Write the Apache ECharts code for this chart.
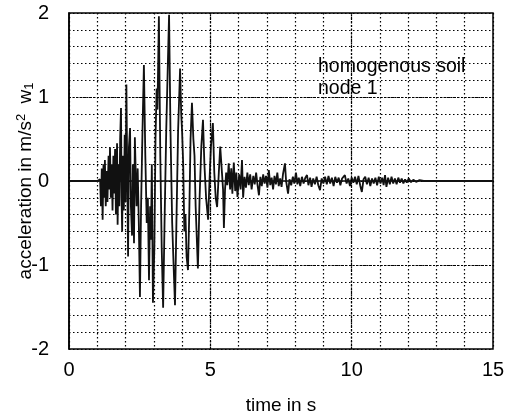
<!DOCTYPE html>
<html>
<head>
<meta charset="utf-8">
<script src="https://cdn.jsdelivr.net/npm/echarts@6/dist/echarts.min.js"></script>
<style>html,body{margin:0;padding:0;background:#fff}#c{width:509px;height:414px}</style>
</head>
<body>
<div id="c"></div>
<script>
// time in s
var times = [0,1.00,1.10,1.13,1.16,1.19,1.22,1.25,1.27,1.30,1.33,1.36,1.40,1.43,1.45,1.48,1.51,1.54,1.57,1.60,1.63,1.66,1.70,1.72,1.75,1.78,1.81,1.84,1.86,1.88,1.91,1.94,1.97,2.00,2.03,2.06,2.09,2.12,2.16,2.19,2.23,2.26,2.30,2.33,2.36,2.39,2.43,2.47,2.51,2.55,2.60,2.65,2.70,2.75,2.79,2.83,2.87,2.90,2.93,2.97,3.02,3.06,3.10,3.13,3.18,3.23,3.28,3.33,3.38,3.44,3.49,3.54,3.59,3.65,3.70,3.75,3.80,3.86,3.93,3.97,4.00,4.04,4.08,4.12,4.16,4.21,4.26,4.30,4.35,4.40,4.44,4.48,4.56,4.62,4.68,4.74,4.79,4.85,4.92,4.97,5.02,5.09,5.14,5.19,5.24,5.30,5.35,5.41,5.45,5.48,5.52,5.56,5.60,5.65,5.70,5.74,5.78,5.83,5.88,5.92,5.96,6.02,6.07,6.12,6.16,6.21,6.26,6.31,6.36,6.41,6.46,6.52,6.57,6.62,6.67,6.72,6.77,6.82,6.87,6.92,6.97,7.02,7.07,7.12,7.17,7.22,7.27,7.32,7.37,7.42,7.47,7.52,7.57,7.64,7.68,7.75,7.80,7.86,7.92,7.97,8.03,8.08,8.13,8.18,8.24,8.30,8.36,8.42,8.47,8.53,8.58,8.64,8.70,8.76,8.82,8.88,8.94,9.00,9.06,9.12,9.18,9.24,9.30,9.36,9.42,9.48,9.54,9.60,9.66,9.76,9.82,9.88,9.94,10.00,10.06,10.12,10.18,10.24,10.30,10.36,10.42,10.48,10.54,10.60,10.66,10.72,10.78,10.84,10.90,10.96,11.02,11.08,11.13,11.18,11.23,11.29,11.35,11.41,11.47,11.53,11.59,11.65,11.71,11.77,11.83,11.89,11.95,12.02,12.10,12.18,12.28,12.40,12.55,15];
// acceleration in m/s^2
var accel = [0,0,0.02,-0.3,0.15,-0.46,0.2,-0.2,0.25,-0.3,0.12,-0.25,0.3,-0.1,0.4,-0.2,0.2,-0.35,0.3,-0.15,0.38,-0.4,0.45,-0.52,0.2,-0.3,0.5,0.87,-0.2,-0.6,0.3,-0.35,0.55,-0.25,1.15,0.1,-0.9,0.4,0.63,-0.3,-0.65,0.2,-0.74,0.52,0.1,-0.3,0.15,-0.5,-1.38,-0.3,0.6,1.38,0.3,-0.5,-0.2,-1.18,-0.3,-0.7,0.2,-1.45,-0.8,0.5,1.1,0.85,1.96,0.3,-0.8,-1.51,-0.5,0.6,1.3,1.98,0.6,-0.5,-1.0,-1.48,-0.5,0.6,1.34,0.8,0.6,0.2,-0.6,-0.4,-0.9,-1.06,-0.3,0.5,0.93,0.5,0.3,-0.3,-1.04,-0.2,0.4,0.73,0.2,-0.2,-0.46,0,0.4,0.69,0.1,-0.2,-0.31,0.1,0.41,0.43,-0.1,-0.56,-0.1,0.1,-0.05,0.21,-0.1,0.15,-0.15,0.22,-0.12,0.1,-0.19,0.08,-0.1,0.25,-0.2,0.05,-0.08,0.1,-0.05,0.08,-0.1,0.06,-0.04,0.1,-0.05,-0.17,0.05,-0.06,0.08,-0.03,0.06,-0.08,0.13,-0.05,0.04,-0.1,0.06,-0.04,0.1,-0.06,0.03,-0.07,0.08,0.21,0,-0.15,0.02,-0.05,0.05,-0.03,0.1,-0.04,0.04,-0.06,0.05,-0.03,0.04,0.07,-0.05,0.04,-0.07,0.03,-0.04,0.05,-0.05,-0.11,0.03,-0.03,0.05,-0.04,0.06,-0.03,0.04,-0.06,0.05,-0.02,0.04,-0.05,0.03,0.07,-0.03,0.03,-0.06,0.04,-0.02,0.05,-0.04,0.06,-0.05,-0.13,0.02,0.05,-0.04,0.04,-0.06,0.03,-0.03,0.04,-0.05,0.05,-0.03,0.04,-0.05,0.07,-0.07,0.04,-0.04,0.05,-0.03,0.03,-0.04,0.04,-0.02,0.03,-0.03,0.02,-0.02,0.03,-0.015,0.015,-0.01,0.01,0,0];
var xTickLabels = [0,5,10,15];
var yTickLabels = [-2,-1,0,1,2];

var data = times.map(function(t,i){return [t, accel[i]];});
var font = 'Liberation Sans';
var chart = echarts.init(document.getElementById('c'), null, {renderer:'canvas'});
chart.setOption({
  animation:false,
  backgroundColor:'#fff',
  grid:{left:69,right:16,top:13,bottom:65,outerBoundsMode:'none',containLabel:false,show:true,borderColor:'#000',borderWidth:1.5,backgroundColor:'transparent'},
  xAxis:{type:'value',min:0,max:15,interval:1,
    name:'time in s',nameLocation:'middle',nameGap:47,nameMoveOverlap:false,
    nameTextStyle:{fontFamily:font,fontSize:19,color:'#000'},
    axisLine:{show:true,lineStyle:{color:'#000',width:1.5}},
    axisTick:{show:false},
    axisLabel:{margin:11,fontFamily:font,fontSize:20,color:'#000',
      formatter:function(v){return xTickLabels.indexOf(Math.round(v))>=0 && Math.abs(v-Math.round(v))<1e-6 ? String(Math.round(v)) : '';}},
    splitLine:{show:true,lineStyle:{color:'#000',width:1.2,type:[1.5,2.5]}}
  },
  yAxis:{type:'value',min:-2,max:2,interval:0.2,
    name:'acceleration in m/s{sup|2} w{sub|1}',nameLocation:'middle',nameGap:33,nameRotate:90,nameMoveOverlap:false,
    nameTextStyle:{fontFamily:font,fontSize:19,color:'#000',
      rich:{sup:{fontFamily:font,fontSize:13,verticalAlign:'top',padding:[0,5,8,0],color:'#000'},
            sub:{fontFamily:font,fontSize:13,verticalAlign:'bottom',padding:[8,0,0,0],color:'#000'}}},
    axisLine:{show:true,lineStyle:{color:'#000',width:1.5}},
    axisTick:{show:false},
    axisLabel:{margin:20,fontFamily:font,fontSize:20,color:'#000',
      formatter:function(v){var r=Math.round(v);return (Math.abs(v-r)<1e-6 && yTickLabels.indexOf(r)>=0)?String(r):'';}},
    splitLine:{show:true,lineStyle:{color:'#000',width:1.2,type:[1.5,2.5]}}
  },
  series:[{type:'line',data:data,showSymbol:false,symbol:'none',
    lineStyle:{color:'#111',width:1.8},
    markLine:{silent:true,symbol:'none',label:{show:false},
      lineStyle:{color:'#000',width:1.2,type:[2,1.5]},
      data:[{yAxis:1},{yAxis:-1},{xAxis:5},{xAxis:10}]}
  }],
  graphic:[{type:'text',left:318,top:56,style:{text:'homogenous soil\nnode 1',fontFamily:font,fontSize:19.5,lineHeight:22,fill:'#000'}}]
});
</script>
</body>
</html>
